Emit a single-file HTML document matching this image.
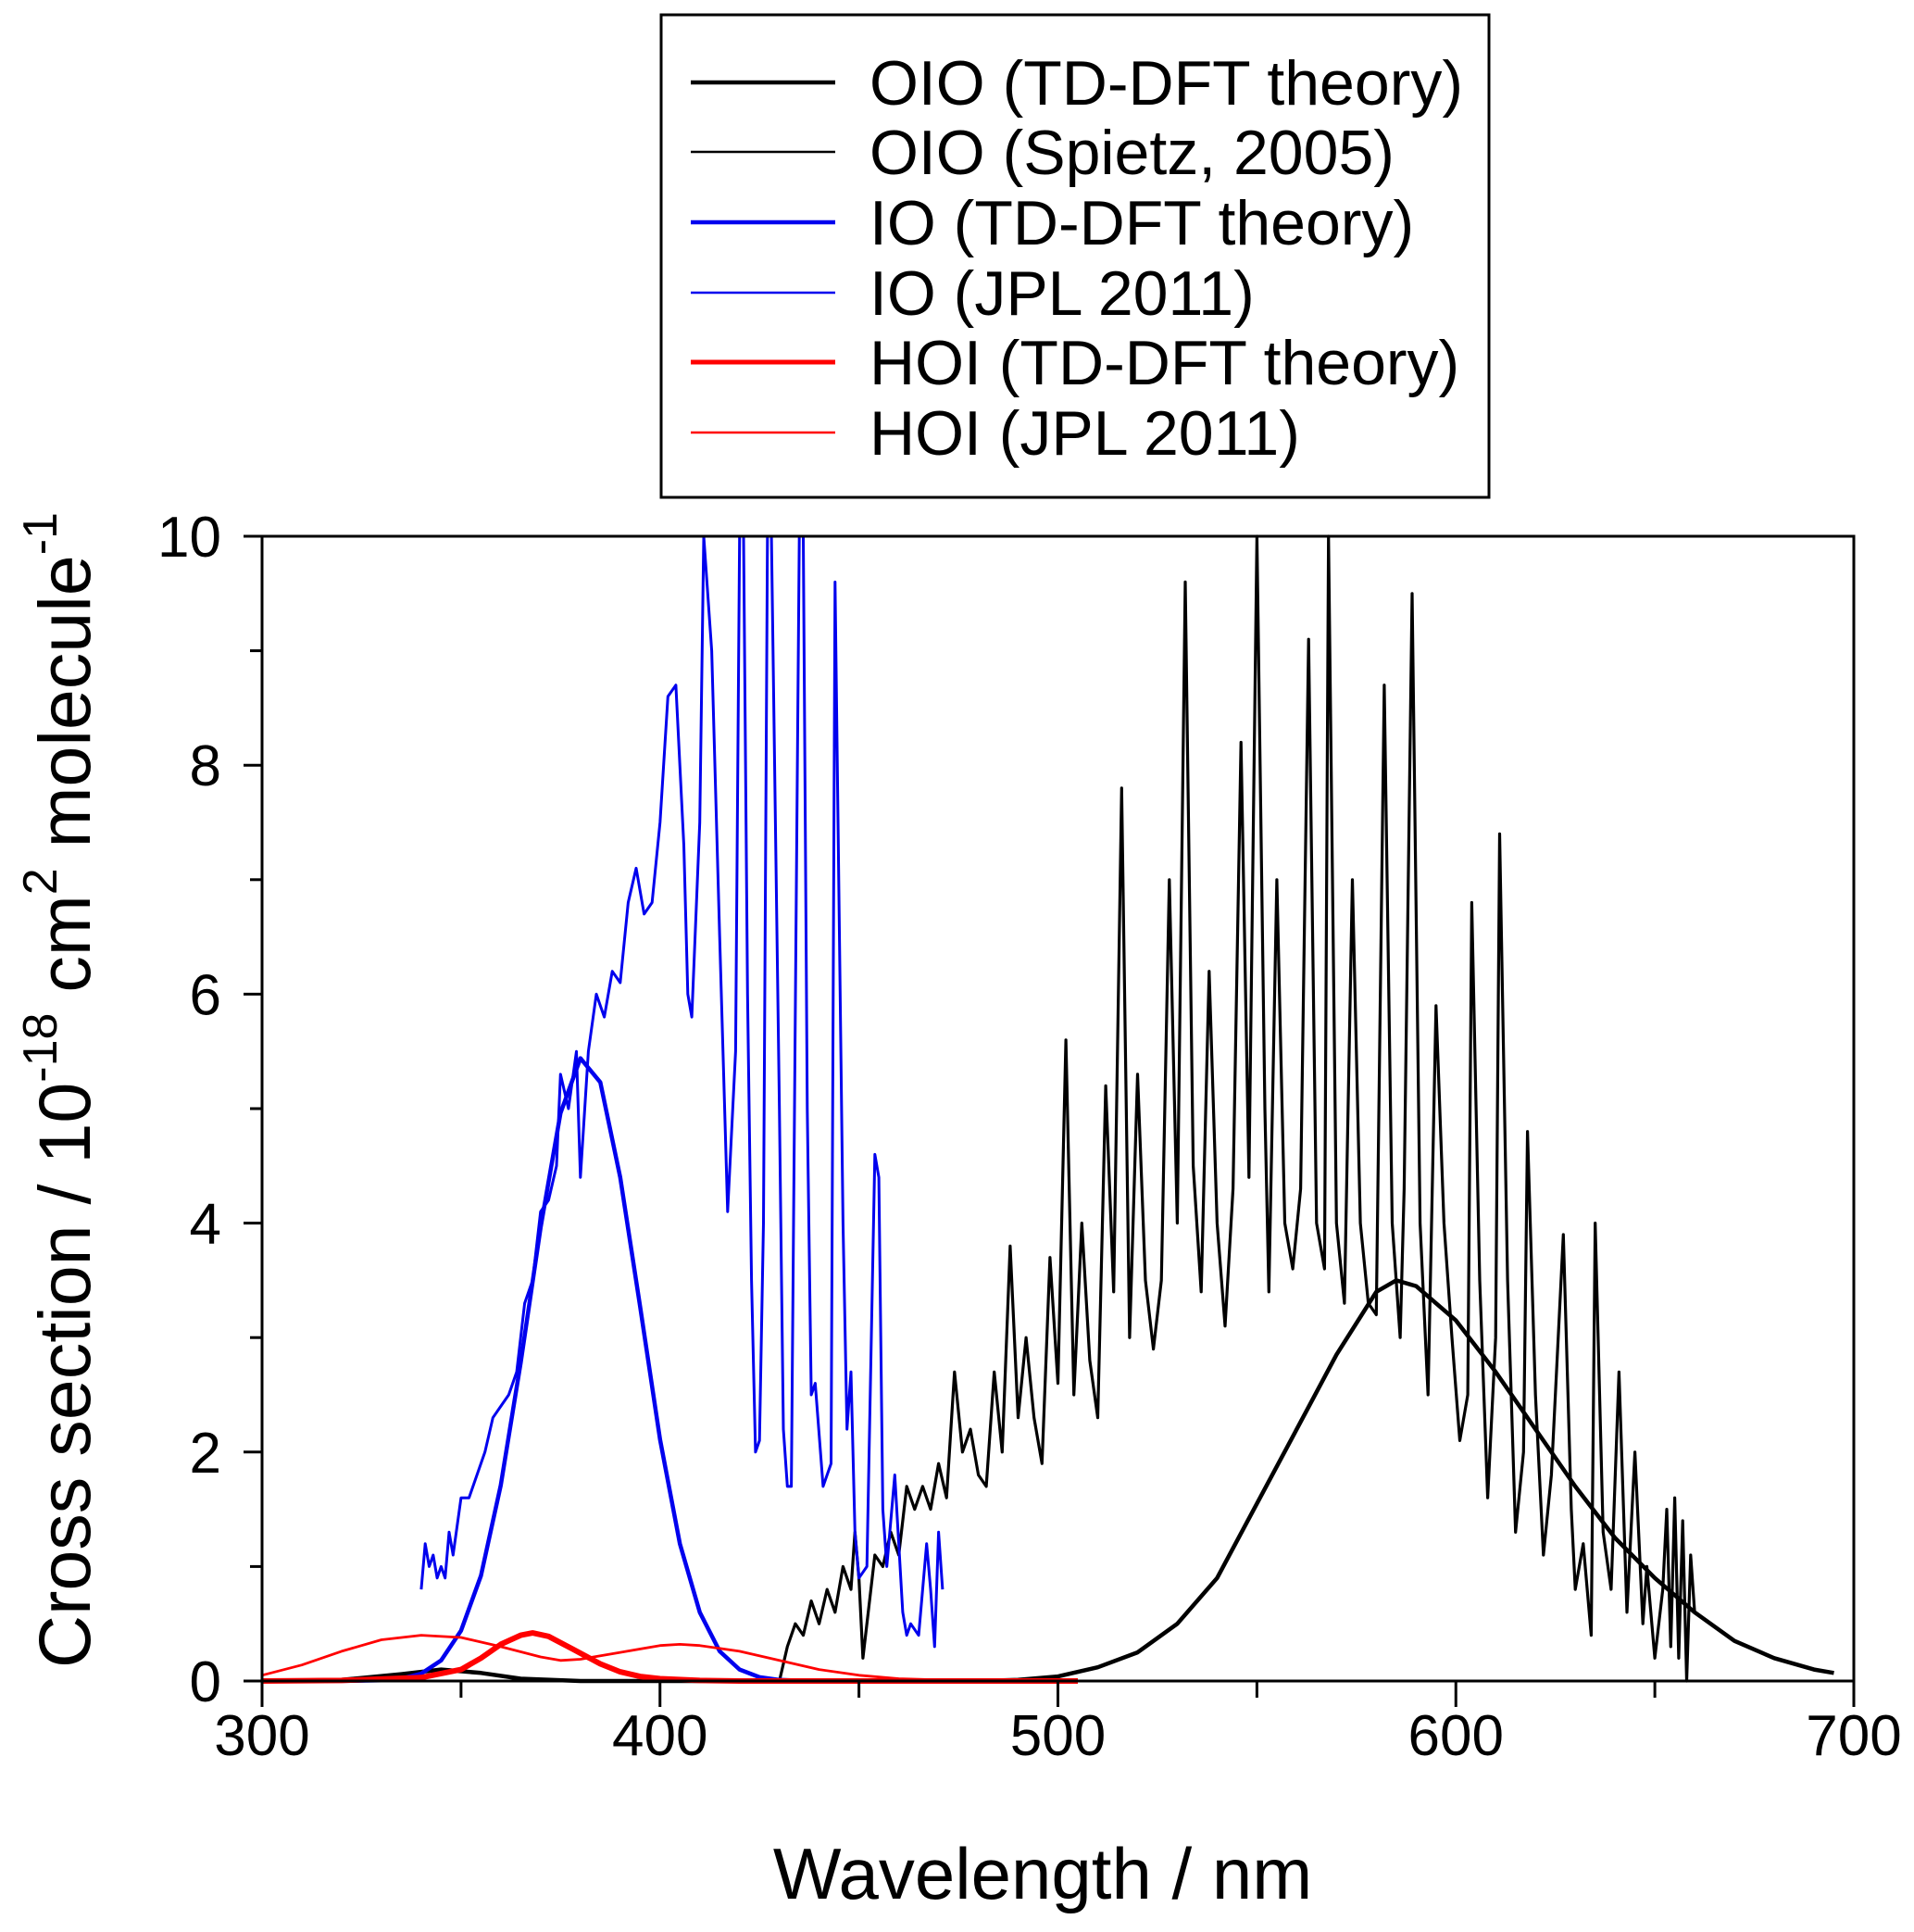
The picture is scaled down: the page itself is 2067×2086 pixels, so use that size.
<!DOCTYPE html>
<html><head><meta charset="utf-8"><style>
html,body{margin:0;padding:0;background:#fff;}
svg{display:block;font-family:"Liberation Sans",Arial,sans-serif;}
</style></head><body>
<svg id="chart" width="2067" height="2086" viewBox="0 0 2067 2086" xmlns="http://www.w3.org/2000/svg">
<rect x="0" y="0" width="2067" height="2086" fill="#fff"/>
<g id="plot"></g>
<rect x="283" y="579" width="1719" height="1236" fill="none" stroke="#000" stroke-width="3"/>
<g id="axes"></g>
<text x="1126" y="2050" font-size="78" text-anchor="middle">Wavelength / nm</text>
<text transform="translate(97,1177) rotate(-90)" font-size="79" text-anchor="middle">Cross section / 10<tspan font-size="52" dy="-36">-18</tspan><tspan dy="36"> cm</tspan><tspan font-size="52" dy="-36">2</tspan><tspan dy="36"> molecule</tspan><tspan font-size="52" dy="-36">-1</tspan></text>
<g>
<rect x="714" y="16" width="894" height="521" fill="#fff" stroke="#000" stroke-width="3"/>
<g font-size="68">
<line x1="746" y1="89" x2="902" y2="89" stroke="#000" stroke-width="4.5"/>
<text x="939" y="113">OIO (TD-DFT theory)</text>
<line x1="746" y1="164" x2="902" y2="164" stroke="#000" stroke-width="2.5"/>
<text x="939" y="188">OIO (Spietz, 2005)</text>
<line x1="746" y1="240" x2="902" y2="240" stroke="#0000ee" stroke-width="4.5"/>
<text x="939" y="264">IO (TD-DFT theory)</text>
<line x1="746" y1="316" x2="902" y2="316" stroke="#0000ee" stroke-width="2.5"/>
<text x="939" y="340">IO (JPL 2011)</text>
<line x1="746" y1="391" x2="902" y2="391" stroke="#f00" stroke-width="5"/>
<text x="939" y="415">HOI (TD-DFT theory)</text>
<line x1="746" y1="467" x2="902" y2="467" stroke="#f00" stroke-width="2.5"/>
<text x="939" y="491">HOI (JPL 2011)</text>
</g></g>
</svg>
<script>
const xTicks=[300,400,500,600,700];
const yTicks=[0,2,4,6,8,10];
const hoiJplW=[300,310,320,330,340,350,360,370,375,380,390,400,405,410,420,430,440,450,460,470,480];
const hoiJplV=[0.05,0.14,0.26,0.36,0.40,0.38,0.30,0.21,0.18,0.19,0.25,0.31,0.32,0.31,0.26,0.18,0.10,0.05,0.02,0.01,0];
const hoiThW=[300,320,340,350,355,360,365,368,372,378,385,390,395,400,410,420,505];
const hoiThV=[0,0.005,0.03,0.1,0.2,0.32,0.40,0.42,0.39,0.28,0.15,0.08,0.04,0.02,0.005,0,0];
const ioThW=[300,320,330,335,340,345,350,355,360,365,370,375,380,385,390,395,400,405,410,415,420,425,430,435,440,450];
const ioThV=[0,0.001,0.006,0.021,0.065,0.18,0.44,0.92,1.71,2.78,3.96,4.96,5.44,5.23,4.40,3.27,2.11,1.20,0.60,0.26,0.10,0.033,0.01,0.003,0,0];
const ioJplW=[340,341,342,343,344,345,346,347,348,350,352,354,356,358,360,362,364,366,368,370,372,374,375,377,379,380,382,384,386,388,390,392,394,396,398,400,402,404,406,407,408,410,411,413,415,417,419,420,421,422,423,424,425,426,427,428,430,431,432,433,435,436,437,438,439,441,443,444,446,447,448,449,450,452,454,455,456,457,459,460,461,462,463,465,467,468,469,470,471];
const ioJplV=[0.8,1.2,1.0,1.1,0.9,1.0,0.9,1.3,1.1,1.6,1.6,1.8,2.0,2.3,2.4,2.5,2.7,3.3,3.5,4.1,4.2,4.5,5.3,5.0,5.5,4.4,5.5,6.0,5.8,6.2,6.1,6.8,7.1,6.7,6.8,7.5,8.6,8.7,7.3,6.0,5.8,7.5,10,9,6.5,4.1,5.5,10,10,6,3.5,2.0,2.1,4,10,10,5,2.2,1.7,1.7,10,10,5,2.5,2.6,1.7,1.9,9.6,4,2.2,2.7,1.3,0.9,1.0,4.6,4.4,1.5,1.0,1.8,1.2,0.6,0.4,0.5,0.4,1.2,0.8,0.3,1.3,0.8];
const oioThW=[300,320,335,345,355,365,380,480,490,500,510,520,530,540,550,560,570,580,585,590,600,610,620,630,640,650,660,670,680,690,695];
const oioThV=[0,0.01,0.06,0.1,0.07,0.02,0,0,0.01,0.04,0.12,0.25,0.5,0.9,1.55,2.2,2.85,3.4,3.5,3.45,3.15,2.7,2.2,1.7,1.25,0.9,0.6,0.35,0.2,0.1,0.07];
const oioSpW=[430,432,434,436,438,440,442,444,446,448,449,450,451,452,454,456,458,460,462,464,466,468,470,472,474,476,478,480,482,484,486,488,490,492,494,496,498,500,502,504,506,508,510,512,514,516,518,520,522,524,526,528,530,532,534,536,538,540,542,544,546,548,550,552,553,555,557,559,561,563,565,567,568,570,572,574,576,578,580,582,584,586,587,589,591,593,595,597,599,601,603,604,606,608,610,611,613,615,617,618,620,622,624,627,629,630,632,634,635,637,639,641,643,645,647,648,650,652,653,654,655,656,657,658,659,660];
const oioSpV=[0,0.3,0.5,0.4,0.7,0.5,0.8,0.6,1.0,0.8,1.3,0.9,0.2,0.5,1.1,1.0,1.3,1.1,1.7,1.5,1.7,1.5,1.9,1.6,2.7,2.0,2.2,1.8,1.7,2.7,2.0,3.8,2.3,3.0,2.3,1.9,3.7,2.6,5.6,2.5,4.0,2.8,2.3,5.2,3.4,7.8,3.0,5.3,3.5,2.9,3.5,7.0,4.0,9.6,4.5,3.4,6.2,4.0,3.1,4.3,8.2,4.4,10,5.0,3.4,7.0,4.0,3.6,4.3,9.1,4.0,3.6,10,4.0,3.3,7.0,4.0,3.3,3.2,8.7,4.0,3.0,4.3,9.5,4.0,2.5,5.9,4.0,3.0,2.1,2.5,6.8,3.5,1.6,3.0,7.4,3.5,1.3,2.0,4.8,2.5,1.1,1.8,3.9,1.5,0.8,1.2,0.4,4.0,1.3,0.8,2.7,0.6,2.0,0.5,1.0,0.2,0.8,1.5,0.3,1.6,0.2,1.4,0,1.1,0.6];

const L=283,R=2002,T=579,B=1815;
const xs=w=>L+(w-300)/400*(R-L);
const ys=v=>B-Math.min(v,10)/10*(B-T);
const NS='http://www.w3.org/2000/svg';
const plot=document.getElementById('plot');
const axes=document.getElementById('axes');
function line(ws,vs,color,width,name){
  const p=document.createElementNS(NS,'polyline');
  p.setAttribute('points',ws.map((w,i)=>xs(w).toFixed(1)+','+ys(vs[i]).toFixed(1)).join(' '));
  p.setAttribute('fill','none');p.setAttribute('stroke',color);p.setAttribute('stroke-width',width);
  p.setAttribute('stroke-linejoin','round');
  
  
  plot.appendChild(p);
}
line(oioSpW,oioSpV,'#000',3.2,'oio-spietz-line');
line(oioThW,oioThV,'#000',4.5,'oio-theory-line');
line(ioJplW,ioJplV,'#0000ee',3,'io-jpl-line');
line(ioThW,ioThV,'#0000ee',4.5,'io-theory-line');
line(hoiJplW,hoiJplV,'#f00',2.8,'hoi-jpl-line');
line(hoiThW,hoiThV,'#f00',6,'hoi-theory-line');
function mk(tag,attrs){const e=document.createElementNS(NS,tag);for(const k in attrs)e.setAttribute(k,attrs[k]);axes.appendChild(e);return e;}
for(let w=300;w<=700;w+=50){
  const major=xTicks.includes(w);
  const t=mk('line',{x1:xs(w),x2:xs(w),y1:B,y2:B+(major?28:18),stroke:'#000','stroke-width':3});
  
  
}
xTicks.forEach(w=>{
  const t=mk('text',{x:xs(w),y:B+80,'font-size':62,'text-anchor':'middle'});
  t.textContent=w;
  
  
});
for(let v=0;v<=10;v+=1){
  const major=yTicks.includes(v);
  const t=mk('line',{x1:L,x2:L-(major?20:13),y1:ys(v),y2:ys(v),stroke:'#000','stroke-width':3});
  
  
}
yTicks.forEach(v=>{
  const t=mk('text',{x:L-44,y:ys(v)+22,'font-size':62,'text-anchor':'end'});
  t.textContent=v;
  
  
});
</script>
</body></html>
